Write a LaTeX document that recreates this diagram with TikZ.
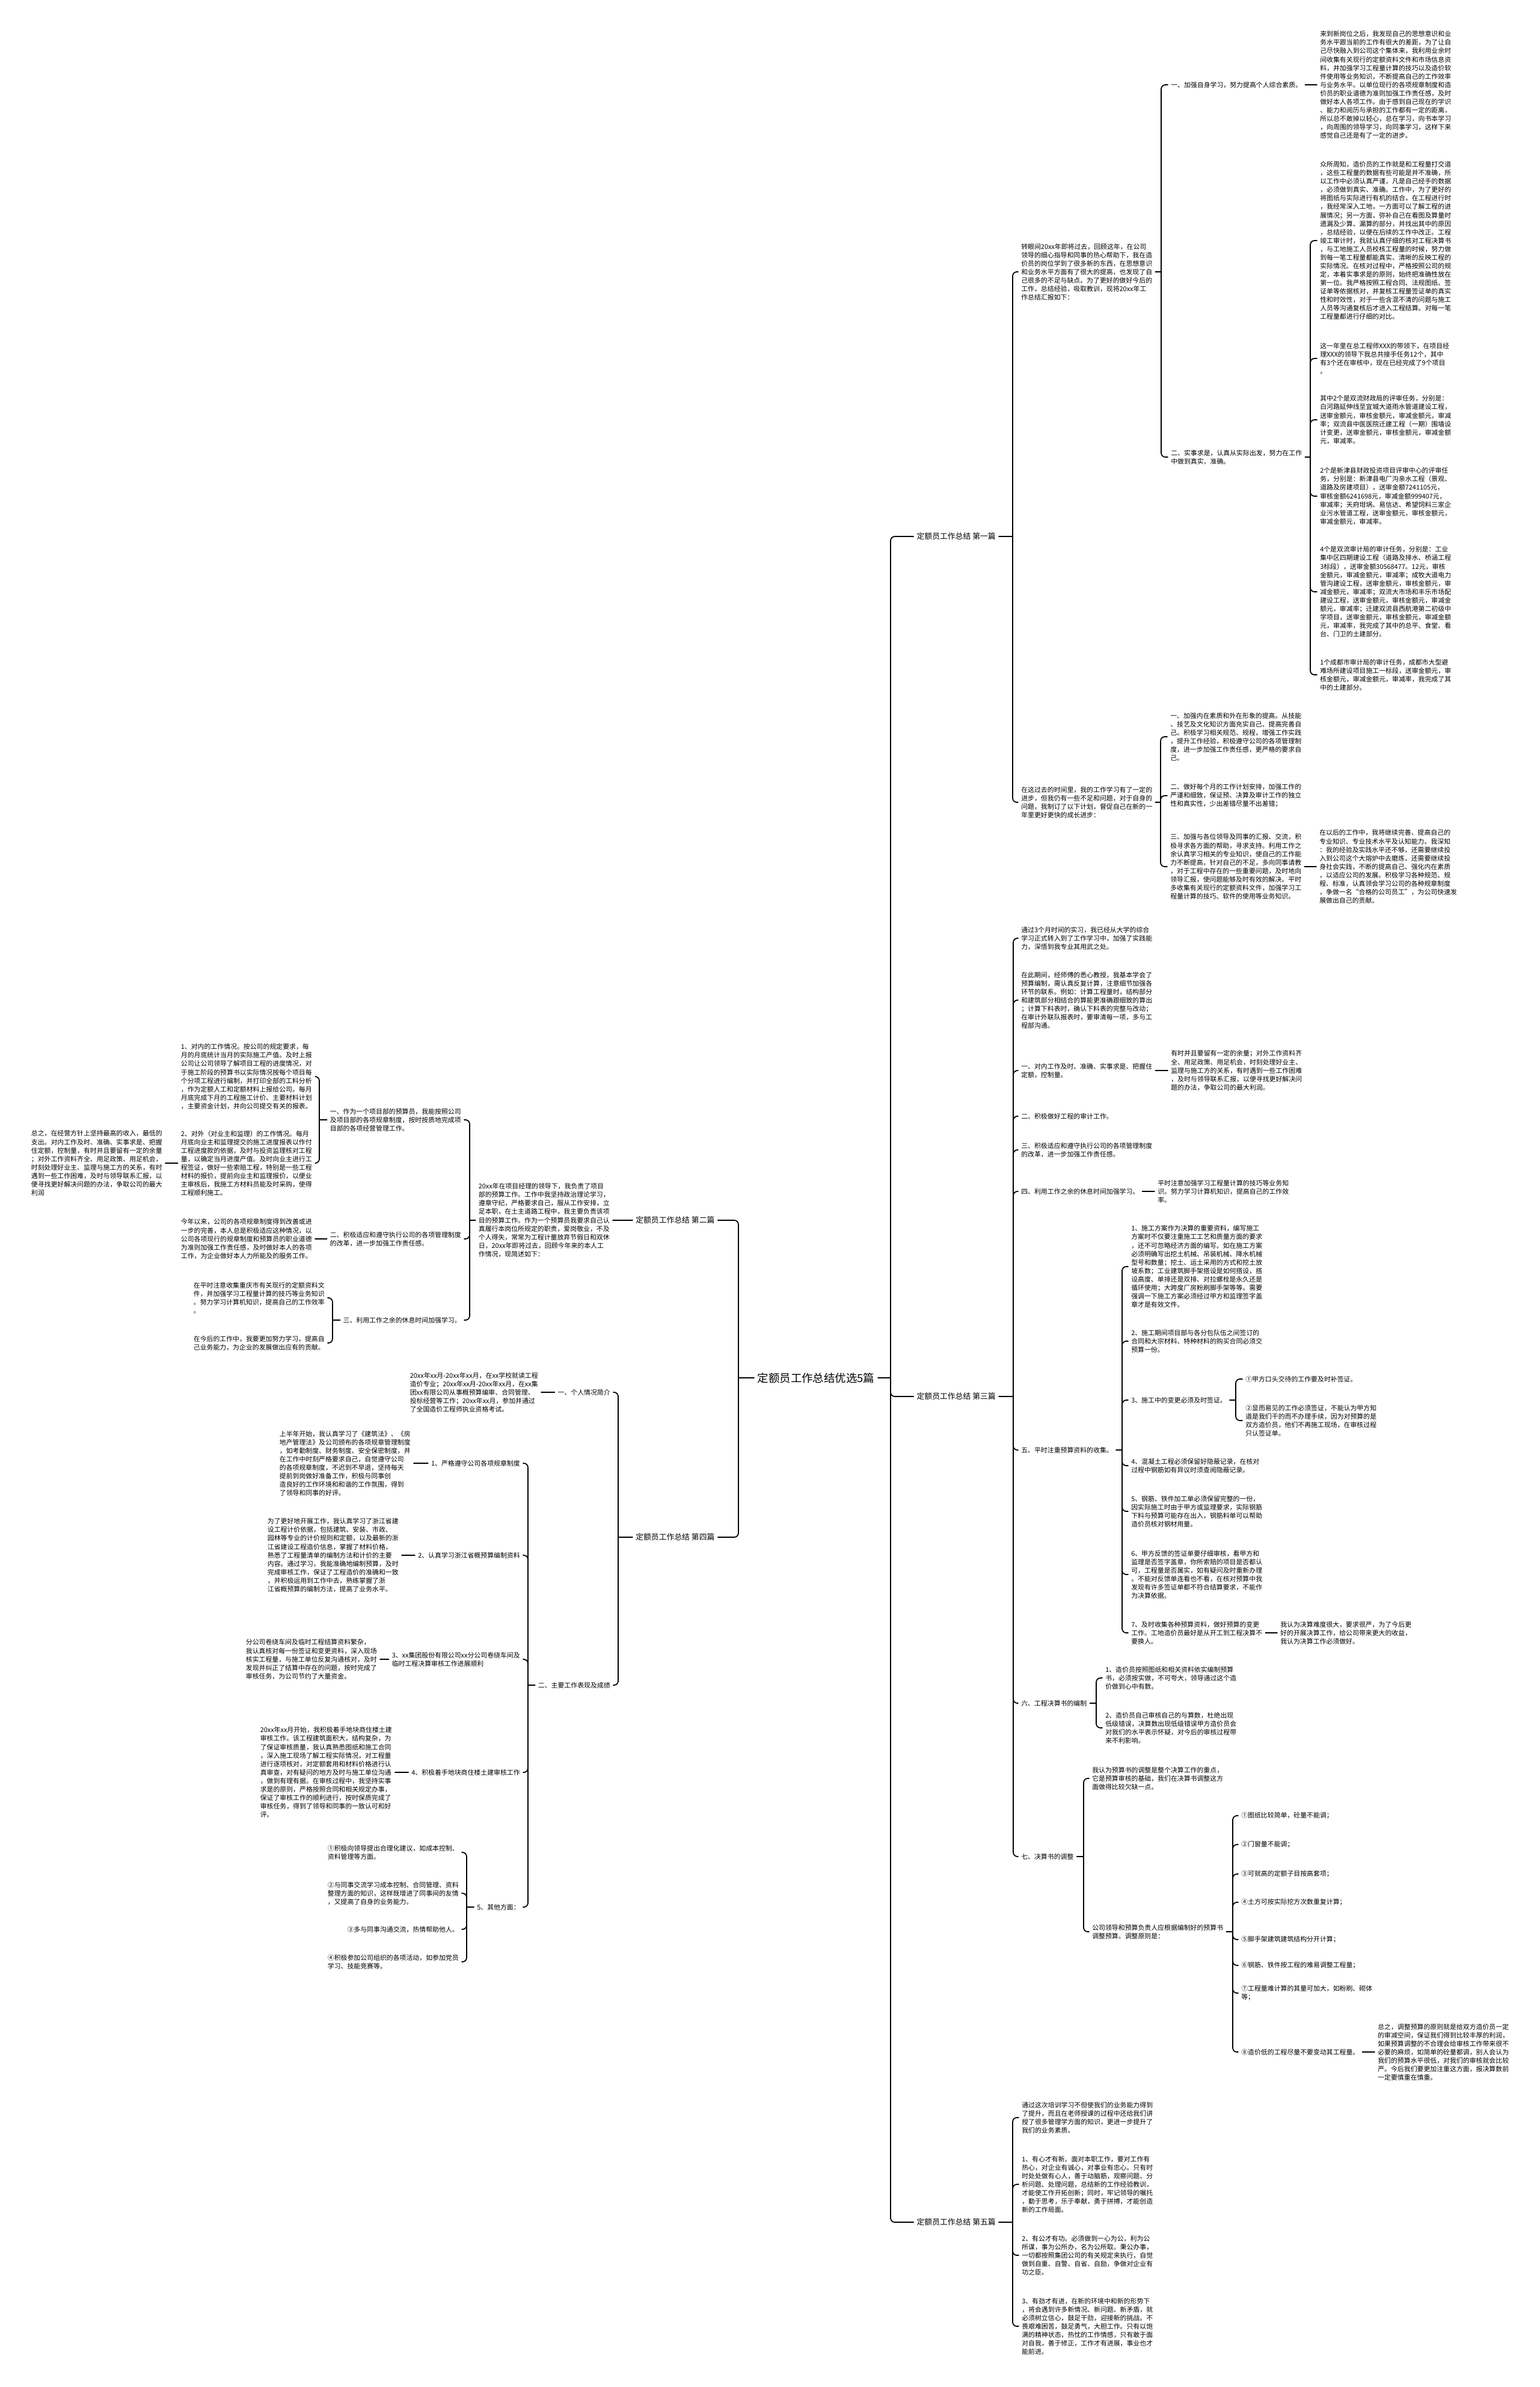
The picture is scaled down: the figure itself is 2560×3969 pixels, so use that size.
\documentclass[tikz,border=0pt]{standalone}
\usepackage{fontspec}
\setmainfont{Noto Sans CJK SC}
\tikzset{
  link/.style={line width=1pt, line cap=round},
  txt/.style={font=\fontsize{6.2}{8}\selectfont, align=left, inner xsep=2.8pt, inner ysep=1pt},
  rt/.style={txt, anchor=west},
  lt/.style={txt, anchor=east},
  title/.style={font=\fontsize{10.5}{12}\selectfont, inner sep=3pt},
  part/.style={font=\fontsize{7.3}{9}\selectfont, inner xsep=2.8pt},
}
% fork to the right: parent, x of bar, children
\newcommand\rfork[3]{%
  \coordinate (#1-j) at (#2,0 |- #1.east);
  \draw[link] (#1.east) -- (#1-j);
  \foreach \kid in {#3}{\draw[link, rounded corners=4pt] (#1-j) |- (\kid.west);}
}
% fork to the left
\newcommand\lfork[3]{%
  \coordinate (#1-j) at (#2,0 |- #1.west);
  \draw[link] (#1.west) -- (#1-j);
  \foreach \kid in {#3}{\draw[link, rounded corners=4pt] (#1-j) |- (\kid.east);}
}
\begin{document}
\begin{tikzpicture}[x=0.02cm, y=-0.02cm]
\fill[white] (0,0) rectangle (2560,3969);
\useasboundingbox (0,0) rectangle (2560,3969);

\node[title] (root) at (1357,2291) {定额员工作总结优选5篇};

\node[part, anchor=east] (p1) at (1661,892) {定额员工作总结 第一篇};
\node[part, anchor=east] (p3) at (1661,2322) {定额员工作总结 第三篇};
\node[part, anchor=east] (p5) at (1661,3695) {定额员工作总结 第五篇};
\node[part, anchor=west] (p2) at (1052,2029) {定额员工作总结 第二篇};
\node[part, anchor=west] (p4) at (1052,2556) {定额员工作总结 第四篇};

% ---- first part
\node[rt] (A1) at (1693,452) {转眼间20xx年即将过去，回顾这年，在公司\\领导的细心指导和同事的热心帮助下，我在造\\价员的岗位学到了很多新的东西，在思想意识\\和业务水平方面有了很大的提高，也发现了自\\己很多的不足与缺点。为了更好的做好今后的\\工作，总结经验，吸取教训，现将20xx年工\\作总结汇报如下：};
\node[rt] (A2) at (1693,1334) {在这过去的时间里，我的工作学习有了一定的\\进步，但我仍有一些不足和问题，对于自身的\\问题，我制订了以下计划，督促自己在新的一\\年里更好更快的成长进步：};
\node[rt] (A1a) at (1942,141) {一、加强自身学习，努力提高个人综合素质。};
\node[rt] (A1b) at (1942,760) {二、实事求是，认真从实际出发，努力在工作\\中做到真实、准确。};
\node[rt] (T1) at (2190,141) {来到新岗位之后，我发现自己的思想意识和业\\务水平跟当前的工作有很大的差距，为了让自\\己尽快融入到公司这个集体来，我利用业余时\\间收集有关现行的定额资料文件和市场信息资\\料，并加强学习工程量计算的技巧以及造价软\\件使用等业务知识，不断提高自己的工作效率\\与业务水平。以单位现行的各项规章制度和造\\价员的职业道德为准则加强工作责任感，及时\\做好本人各项工作。由于感到自己现在的学识\\、能力和阅历与承担的工作都有一定的距离，\\所以总不敢掉以轻心，总在学习，向书本学习\\，向周围的领导学习，向同事学习，这样下来\\感觉自己还是有了一定的进步。};
\node[rt] (T2) at (2190,400) {众所周知，造价员的工作就是和工程量打交道\\，这些工程量的数据有些可能是并不准确，所\\以工作中必须认真严谨，凡是自己经手的数据\\，必须做到真实、准确。工作中，为了更好的\\将图纸与实际进行有机的结合，在工程进行时\\，我经常深入工地，一方面可以了解工程的进\\展情况；另一方面，弥补自己在看图及算量时\\遗漏及少算、漏算的部分，并找出其中的原因\\，总结经验，以便在后续的工作中改正。工程\\竣工审计时，我就认真仔细的核对工程决算书\\，与工地施工人员校核工程量的时候，努力做\\到每一笔工程量都能真实、清晰的反映工程的\\实际情况。在核对过程中，严格按照公司的规\\定，本着实事求是的原则，始终把准确性放在\\第一位。我严格按照工程合同、法规图纸、签\\证单等依据核对，并复核工程量签证单的真实\\性和时效性，对于一些含混不清的问题与施工\\人员等沟通复核后才进入工程结算。对每一笔\\工程量都进行仔细的对比。};
\node[rt] (T3) at (2190,596) {这一年里在总工程师XXX的带领下，在项目经\\理XXX的领导下我总共接手任务12个，其中\\有3个还在审核中，现在已经完成了9个项目\\。};
\node[rt] (T4) at (2190,698) {其中2个是双流财政局的评审任务，分别是：\\白河路延伸线至宜城大道雨水管道建设工程，\\送审金额元，审核金额元，审减金额元，审减\\率；双流县中医医院迁建工程（一期）围墙设\\计变更，送审金额元，审核金额元，审减金额\\元，审减率。};
\node[rt] (T5) at (2190,825) {2个是新津县财政投资项目评审中心的评审任\\务，分别是：新津县电厂沟亲水工程（景观、\\道路及房建项目），送审金额7241105元，\\审核金额6241698元，审减金额999407元，\\审减率；天府坩埚、易信达、希望饲料三家企\\业污水管道工程，送审金额元，审核金额元，\\审减金额元，审减率。};
\node[rt] (T6) at (2190,984) {4个是双流审计局的审计任务，分别是：工业\\集中区四期建设工程（道路及排水、桥涵工程\\3标段），送审金额30568477。12元，审核\\金额元，审减金额元，审减率；成牧大道电力\\管沟建设工程，送审金额元，审核金额元，审\\减金额元，审减率；双流大市场和丰乐市场配\\建设工程，送审金额元，审核金额元，审减金\\额元，审减率；迁建双流县西航港第二初级中\\学项目，送审金额元，审核金额元，审减金额\\元，审减率，我完成了其中的总平、食堂、看\\台、门卫的土建部分。};
\node[rt] (T7) at (2190,1122) {1个成都市审计局的审计任务，成都市大型避\\难场所建设项目施工一标段，送审金额元，审\\核金额元，审减金额元，审减率，我完成了其\\中的土建部分。};
\node[rt] (A2a) at (1941,1225) {一、加强内在素质和外在形象的提高。从技能\\、技艺及文化知识方面充实自己、提高完善自\\己。积极学习相关规范、规程，增强工作实践\\，提升工作经验，积极遵守公司的各项管理制\\度，进一步加强工作责任感，更严格的要求自\\己。};
\node[rt] (A2b) at (1941,1323) {二、做好每个月的工作计划安排，加强工作的\\严谨和细致，保证预、决算及审计工作的独立\\性和真实性，少出差错尽量不出差错；};
\node[rt] (A2c) at (1941,1441) {三、加强与各位领导及同事的汇报、交流，积\\极寻求各方面的帮助，寻求支持。利用工作之\\余认真学习相关的专业知识，使自己的工作能\\力不断提高，针对自己的不足，多向同事请教\\，对于工程中存在的一些重要问题，及时地向\\领导汇报，使问题能够及时有效的解决。平时\\多收集有关现行的定额资料文件，加强学习工\\程量计算的技巧、软件的使用等业务知识。};
\node[rt] (A2d) at (2189,1441) {在以后的工作中，我将继续完善、提高自己的\\专业知识、专业技术水平及认知能力。我深知\\：我的经验及实践水平还不够，还需要继续投\\入到公司这个大熔炉中去磨炼，还需要继续投\\身社会实践，不断的提高自己、强化内在素质\\，以适应公司的发展。积极学习各种规范、规\\程、标准，认真领会学习公司的各种规章制度\\，争做一名“合格的公司员工”，为公司快速发\\展做出自己的贡献。};

% ---- third part
\node[rt] (B1) at (1693,1560) {通过3个月时间的实习，我已经从大学的综合\\学习正式转入到了工作学习中，加强了实践能\\力，深悟到我专业其用武之处。};
\node[rt] (B2) at (1693,1663) {在此期间，经师傅的悉心教授，我基本学会了\\预算编制，需认真反复计算，注意细节加强各\\环节的联系。例如：计算工程量时，结构部分\\和建筑部分相结合的算能更准确跟细致的算出\\；计算下料表时，确认下料表的完整与改动；\\在审计外联队报表时，要审清每一项，多与工\\程部沟通。};
\node[rt] (B3) at (1693,1780) {一、对内工作及时、准确、实事求是、把握住\\定额，控制量。};
\node[rt] (B3a) at (1942,1780) {有时并且要留有一定的余量；对外工作资料齐\\全、用足政策、用足机会，时刻处理好业主、\\监理与施工方的关系，有时遇到一些工作困难\\，及时与领导联系汇报，以便寻找更好解决问\\题的办法，争取公司的最大利润。};
\node[rt] (B4) at (1693,1856) {二、积极做好工程的审计工作。};
\node[rt] (B5) at (1693,1912) {三、积极适应和遵守执行公司的各项管理制度\\的改革，进一步加强工作责任感。};
\node[rt] (B6) at (1693,1981) {四、利用工作之余的休息时间加强学习。};
\node[rt] (B6a) at (1920,1981) {平时注意加强学习工程量计算的技巧等业务知\\识。努力学习计算机知识，提高自己的工作效\\率。};
\node[rt] (B7) at (1693,2411) {五、平时注重预算资料的收集。};
\node[rt] (B7a) at (1876,2106) {1、施工方案作为决算的重要资料，编写施工\\方案时不仅要注重施工工艺和质量方面的要求\\，还不可忽略经济方面的编写。如在施工方案\\必须明确写出挖土机械、吊装机械、降水机械\\型号和数量；挖土、运土采用的方式和挖土放\\坡系数；工业建筑脚手架搭设是如何搭设，搭\\设高度、单排还是双排、对拉螺栓是永久还是\\循环使用；大跨度厂房粉刷脚手架等等。需要\\强调一下施工方案必须经过甲方和监理签字盖\\章才是有效文件。};
\node[rt] (B7b) at (1876,2230) {2、施工期间项目部与各分包队伍之间签订的\\合同和大宗材料、特种材料的购买合同必须交\\预算一份。};
\node[rt] (B7c) at (1876,2328) {3、施工中的变更必须及时签证。};
\node[rt] (B7c1) at (2066,2293) {①甲方口头交待的工作要及时补签证。};
\node[rt] (B7c2) at (2066,2362) {②显而易见的工作必须签证，不能认为甲方知\\道是我们干的而不办理手续，因为对预算的是\\双方造价员，他们不再施工现场，在审核过程\\只认签证单。};
\node[rt] (B7d) at (1876,2437) {4、混凝土工程必须保留好隐蔽记录，在核对\\过程中钢筋如有异议时须查阅隐蔽记录。};
\node[rt] (B7e) at (1876,2513) {5、钢筋、铁件加工单必须保留完整的一份，\\因实际施工时由于甲方或监理要求，实际钢筋\\下料与预算可能存在出入，钢筋料单可以帮助\\造价员核对钢材用量。};
\node[rt] (B7f) at (1876,2618) {6、甲方反馈的签证单要仔细审核，看甲方和\\监理是否签字盖章，你所索赔的项目是否都认\\可，工程量是否属实，如有疑问及时重新办理\\。不能对反馈单连看也不看，在核对预算中我\\发现有许多签证单都不符合结算要求，不能作\\为决算依据。};
\node[rt] (B7g) at (1876,2715) {7、及时收集各种预算资料，做好预算的变更\\工作。工地造价员最好是从开工到工程决算不\\要换人。};
\node[rt] (B7g1) at (2124,2715) {我认为决算难度很大，要求很严，为了今后更\\好的开展决算工作，给公司带来更大的收益，\\我认为决算工作必须做好。};
\node[rt] (B8) at (1693,2832) {六、工程决算书的编制};
\node[rt] (B8a) at (1833,2790) {1、造价员按照图纸和相关资料依实编制预算\\书，必须按实做，不可夸大，领导通过这个造\\价做到心中有数。};
\node[rt] (B8b) at (1833,2873) {2、造价员自己审核自己的与算数，杜绝出现\\低级错误，决算数出现低级错误甲方造价员会\\对我们的水平表示怀疑，对今后的审核过程带\\来不利影响。};
\node[rt] (B9) at (1693,3087) {七、决算书的调整};
\node[rt] (B9a) at (1811,2957) {我认为预算书的调整是整个决算工作的重点，\\它是预算审核的基础，我们在决算书调整这方\\面做得比较欠缺一点。};
\node[rt] (B9b) at (1811,3212) {公司领导和预算负责人应根据编制好的预算书\\调整预算。调整原则是：};
\node[rt] (c1) at (2059,3019) {①图纸比较简单，砼量不能调；};
\node[rt] (c2) at (2059,3067) {②门窗量不能调；};
\node[rt] (c3) at (2059,3116) {③可就高的定额子目按高套项；};
\node[rt] (c4) at (2059,3163) {④土方可按实际挖方次数重复计算；};
\node[rt] (c5) at (2059,3225) {⑤脚手架建筑建筑结构分开计算；};
\node[rt] (c6) at (2059,3268) {⑥钢筋、铁件按工程的难易调整工程量；};
\node[rt] (c7) at (2059,3314) {⑦工程量难计算的其量可加大，如粉刷、砌体\\等；};
\node[rt] (c8) at (2059,3412) {⑧造价低的工程尽量不要变动其工程量。};
\node[rt] (c8a) at (2286,3412) {总之，调整预算的原则就是给双方造价员一定\\的审减空间，保证我们得到比较丰厚的利润，\\如果预算调整的不合理会给审核工作带来很不\\必要的麻烦，如简单的砼量都调，别人会认为\\我们的预算水平很低，对我们的审核就会比较\\严。今后我们要更加注重这方面，报决算数前\\一定要慎重在慎重。};

% ---- fifth part
\node[rt] (D1) at (1694,3521) {通过这次培训学习不但使我们的业务能力得到\\了提升，而且在老师授课的过程中还给我们讲\\授了很多管理学方面的知识，更进一步提升了\\我们的业务素质。};
\node[rt] (D2) at (1694,3632) {1、有心才有新。面对本职工作，要对工作有\\热心，对企业有诚心，对事业有忠心。只有时\\时处处做有心人，善于动脑筋，观察问题、分\\析问题、处理问题，总结新的工作经验教训，\\才能使工作开拓创新；同时，牢记领导的嘱托\\，勤于思考，乐于奉献，勇于拼搏，才能创造\\新的工作局面。};
\node[rt] (D3) at (1694,3750) {2、有公才有功。必须做到一心为公，利为公\\所谋，事为公所办，名为公所取。秉公办事，\\一切都按照集团公司的有关规定来执行，自觉\\做到自重、自警、自省、自励，争做对企业有\\功之臣。};
\node[rt] (D4) at (1694,3868) {3、有劲才有进，在新的环境中和新的形势下\\，将会遇到许多新情况、新问题、新矛盾，就\\必须树立信心，鼓足干劲，迎接新的挑战。不\\畏艰难困苦，鼓足勇气，大胆工作。只有以饱\\满的精神状态，热忱的工作情感，只有敢于面\\对自我，善于修正，工作才有进展，事业也才\\能前进。};

% ---- second part
\node[lt] (E1) at (1019,2029) {20xx年在项目经理的领导下，我负责了项目\\部的预算工作。工作中我坚持政治理论学习，\\遵章守纪，严格要求自己，服从工作安排，立\\足本职，在土主道路工程中，我主要负责该项\\目的预算工作。作为一个预算员我要求自己认\\真履行本岗位所规定的职责，爱岗敬业，不及\\个人得失，常常为工程计量放弃节假日和双休\\日，20xx年即将过去，回顾今年来的本人工\\作情况，现简述如下：};
\node[lt] (E2) at (772,1862) {一、作为一个项目部的预算员，我能按照公司\\及项目部的各项规章制度，按时按质地完成项\\目部的各项经营管理工作。};
\node[lt] (E3) at (772,2060) {二、积极适应和遵守执行公司的各项管理制度\\的改革，进一步加强工作责任感。};
\node[lt] (E4) at (772,2195) {三、利用工作之余的休息时间加强学习。};
\node[lt] (E2a) at (524,1790) {1、对内的工作情况。按公司的规定要求，每\\月的月底统计当月的实际施工产值。及时上报\\公司让公司领导了解项目工程的进度情况，对\\于施工阶段的预算书以实际情况按每个项目每\\个分项工程进行编制，并打印全部的工料分析\\，作为定额人工和定额材料上报给公司。每月\\月底完成下月的工程施工计价、主要材料计划\\，主要资金计划，并向公司提交有关的报表。};
\node[lt] (E2b) at (524,1934) {2、对外（对业主和监理）的工作情况。每月\\月底向业主和监理提交的施工进度报表以作付\\工程进度款的依据，及时与投资监理核对工程\\量，以确定当月进度产值。及时向业主进行工\\程签证，做好一些索赔工程，特别是一些工程\\材料的报价，提前向业主和监理报价，以便业\\主审核后，我施工方材料员能及时采购，使得\\工程顺利施工。};
\node[lt] (E2b1) at (275,1934) {总之，在经营方针上坚持最高的收入，最低的\\支出。对内工作及时、准确、实事求是、把握\\住定额，控制量，有时并且要留有一定的余量\\；对外工作资料齐全、用足政策、用足机会，\\时刻处理好业主、监理与施工方的关系，有时\\遇到一些工作困难，及时与领导联系汇报，以\\便寻找更好解决问题的办法，争取公司的最大\\利润};
\node[lt] (E3a) at (524,2060) {今年以来，公司的各项规章制度得到改善或进\\一步的完善，本人总是积极适应这种情况，以\\公司各项现行的规章制度和预算员的职业道德\\为准则加强工作责任感，及时做好本人的各项\\工作，为企业做好本人力所能及的服务工作。};
\node[lt] (E4a) at (545,2158) {在平时注意收集重庆市有关现行的定额资料文\\件，并加强学习工程量计算的技巧等业务知识\\。努力学习计算机知识，提高自己的工作效率\\。};
\node[lt] (E4b) at (545,2233) {在今后的工作中，我要更加努力学习，提高自\\己业务能力，为企业的发展做出应有的贡献。};

% ---- fourth part
\node[lt] (F1) at (1020,2315) {一、个人情况简介};
\node[lt] (F1a) at (900,2315) {20xx年xx月-20xx年xx月，在xx学校就读工程\\造价专业；20xx年xx月-20xx年xx月，在xx集\\团xx有限公司从事概预算编审、合同管理、\\投标经营等工作；20xx年xx月，参加并通过\\了全国造价工程师执业资格考试。};
\node[lt] (F2) at (1020,2802) {二、主要工作表现及成绩};
\node[lt] (F2a) at (870,2433) {1、严格遵守公司各项规章制度};
\node[lt] (F2a1) at (688,2433) {上半年开始，我认真学习了《建筑法》、《房\\地产管理法》及公司颁布的各项规章管理制度\\，如考勤制度、财务制度、安全保密制度，并\\在工作中时刻严格要求自己，自觉遵守公司\\的各项规章制度，不迟到不早退，坚持每天\\提前到岗做好准备工作，积极与同事创\\造良好的工作环境和和谐的工作氛围，得到\\了领导和同事的好评。};
\node[lt] (F2b) at (870,2586) {2、认真学习浙江省概预算编制资料};
\node[lt] (F2b1) at (668,2586) {为了更好地开展工作，我认真学习了浙江省建\\设工程计价依据，包括建筑、安装、市政、\\园林等专业的计价规则和定额，以及最新的浙\\江省建设工程造价信息，掌握了材料价格，\\熟悉了工程量清单的编制方法和计价的主要\\内容。通过学习，我能准确地编制预算，及时\\完成审核工作，保证了工程造价的准确和一致\\，并积极运用到工作中去，熟练掌握了浙\\江省概预算的编制方法，提高了业务水平。};
\node[lt] (F2c) at (870,2759) {3、xx集团股份有限公司xx分公司卷绕车间及\\临时工程决算审核工作进展顺利};
\node[lt] (F2c1) at (632,2759) {分公司卷绕车间及临时工程结算资料繁杂，\\我认真核对每一份签证和变更资料，深入现场\\核实工程量，与施工单位反复沟通核对，及时\\发现并纠正了结算中存在的问题，按时完成了\\审核任务，为公司节约了大量资金。};
\node[lt] (F2d) at (870,2947) {4、积极着手地块商住楼土建审核工作};
\node[lt] (F2d1) at (657,2947) {20xx年xx月开始，我积极着手地块商住楼土建\\审核工作。该工程建筑面积大，结构复杂，为\\了保证审核质量，我认真熟悉图纸和施工合同\\，深入施工现场了解工程实际情况，对工程量\\进行逐项核对，对定额套用和材料价格进行认\\真审查，对有疑问的地方及时与施工单位沟通\\，做到有理有据。在审核过程中，我坚持实事\\求是的原则，严格按照合同和相关规定办事，\\保证了审核工作的顺利进行，按时保质完成了\\审核任务，得到了领导和同事的一致认可和好\\评。};
\node[lt] (F2e) at (870,3171) {5、其他方面：};
\node[lt] (F2e1) at (768,3080) {①积极向领导提出合理化建议，如成本控制、\\资料管理等方面。};
\node[lt] (F2e2) at (768,3148) {②与同事交流学习成本控制、合同管理、资料\\整理方面的知识，这样既增进了同事间的友情\\，又提高了自身的业务能力。};
\node[lt] (F2e3) at (768,3208) {③多与同事沟通交流，热情帮助他人。};
\node[lt] (F2e4) at (768,3262) {④积极参加公司组织的各项活动，如参加党员\\学习、技能竞赛等。};

% ---- connectors
\rfork{root}{1481}{p1,p3,p5}
\lfork{root}{1228}{p2,p4}
\rfork{p1}{1684}{A1,A2}
\rfork{A1}{1931}{A1a,A1b}
\rfork{A1b}{2179}{T2,T3,T4,T5,T6,T7}
\rfork{A2}{1930}{A2a,A2b,A2c}
\draw[link] (A1a.east) -- (T1.west);
\draw[link] (A2c.east) -- (A2d.west);
\rfork{p3}{1685}{B1,B2,B3,B4,B5,B6,B7,B8,B9}
\draw[link] (B3.east) -- (B3a.west);
\draw[link] (B6.east) -- (B6a.west);
\rfork{B7}{1866}{B7a,B7b,B7c,B7d,B7e,B7f,B7g}
\rfork{B7c}{2055}{B7c1,B7c2}
\draw[link] (B7g.east) -- (B7g1.west);
\rfork{B8}{1823}{B8a,B8b}
\rfork{B9}{1802}{B9a,B9b}
\rfork{B9b}{2050}{c1,c2,c3,c4,c5,c6,c7,c8}
\draw[link] (c8.east) -- (c8a.west);
\rfork{p5}{1684}{D1,D2,D3,D4}
\draw[link] (p2.west) -- (E1.east);
\lfork{E1}{781}{E2,E3,E4}
\lfork{E2}{531}{E2a,E2b}
\draw[link] (E2b.west) -- (E2b1.east);
\draw[link] (E3.west) -- (E3a.east);
\lfork{E4}{553}{E4a,E4b}
\lfork{p4}{1028}{F1,F2}
\draw[link] (F1.west) -- (F1a.east);
\lfork{F2}{878}{F2a,F2b,F2c,F2d,F2e}
\draw[link] (F2a.west) -- (F2a1.east);
\draw[link] (F2b.west) -- (F2b1.east);
\draw[link] (F2c.west) -- (F2c1.east);
\draw[link] (F2d.west) -- (F2d1.east);
\lfork{F2e}{776}{F2e1,F2e2,F2e3,F2e4}
\end{tikzpicture}
\end{document}
